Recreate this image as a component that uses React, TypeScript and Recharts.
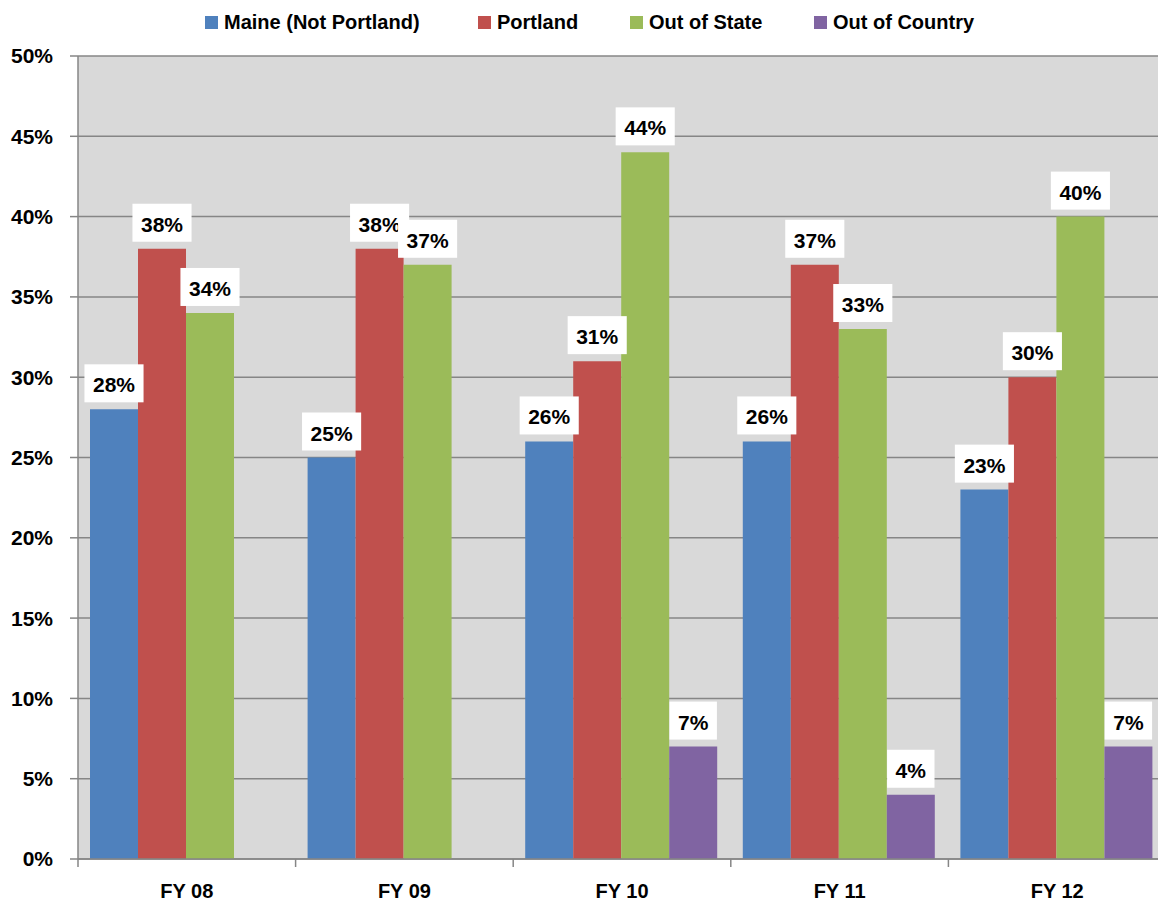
import {
  BarChart,
  Bar,
  XAxis,
  YAxis,
  CartesianGrid,
  LabelList,
} from "recharts";

const years = ["FY 08", "FY 09", "FY 10", "FY 11", "FY 12"];
const maine = [28, 25, 26, 26, 23];
const portland = [38, 38, 31, 37, 30];
const outOfState = [34, 37, 44, 33, 40];
const outOfCountry = [null, null, 7, 4, 7];
const yTicks = [0, 5, 10, 15, 20, 25, 30, 35, 40, 45, 50];

const series = [
  { key: "maine", name: "Maine (Not Portland)", color: "#4f81bd" },
  { key: "portland", name: "Portland", color: "#c0504d" },
  { key: "outOfState", name: "Out of State", color: "#9bbb59" },
  { key: "outOfCountry", name: "Out of Country", color: "#8064a2" },
];

const data = years.map((fy, i) => ({
  fy,
  maine: maine[i],
  portland: portland[i],
  outOfState: outOfState[i],
  outOfCountry: outOfCountry[i],
}));

const W = 1175;
const H = 905;
const AXIS_W = 78;
const RIGHT = 9;
const BAND = (W - AXIS_W - RIGHT) / years.length;
const FONT = "'Liberation Sans', Arial, sans-serif";
const GRID = "#868686";

const legendWidths = [273, 152, 184, undefined];

function ValueBox(props: any) {
  const { x, y, width, value } = props;
  if (value == null) return null;
  const text = `${value}%`;
  const w = (text.length - 1) * 11.7 + 18.7 + 17;
  const cx = x + width / 2;
  const top = y - 7 - 38;
  return (
    <g>
      <rect x={cx - w / 2} y={top} width={w} height={38} fill="#fff" />
      <text
        x={cx}
        y={top + 28}
        textAnchor="middle"
        fontFamily={FONT}
        fontWeight="bold"
        fontSize={21}
        fill="#000"
      >
        {text}
      </text>
    </g>
  );
}

function YearTick(props: any) {
  const { x, y, payload } = props;
  const left = x - BAND / 2;
  return (
    <g>
      <line x1={left} y1={y - 8} x2={left} y2={y} stroke={GRID} strokeWidth={1.5} />
      <text
        x={x}
        y={y + 31}
        textAnchor="middle"
        fontFamily={FONT}
        fontWeight="bold"
        fontSize={20}
        fill="#000"
      >
        {payload.value}
      </text>
    </g>
  );
}

export default function App() {
  return (
    <div
      style={{
        position: "absolute",
        left: 0,
        top: 0,
        width: 1158,
        height: H,
        overflow: "hidden",
        background: "#fff",
      }}
    >
      <div
        style={{
          position: "absolute",
          left: 205,
          top: 8,
          height: 29,
          display: "flex",
          alignItems: "center",
          fontFamily: FONT,
          fontWeight: "bold",
          fontSize: 20,
          color: "#000",
          whiteSpace: "nowrap",
        }}
      >
        {series.map((s, i) => (
          <div
            key={s.key}
            style={{ display: "flex", alignItems: "center", width: legendWidths[i] }}
          >
            <span
              style={{
                display: "inline-block",
                width: 13,
                height: 13,
                background: s.color,
                marginRight: 6,
              }}
            />
            {s.name}
          </div>
        ))}
      </div>
      <BarChart
        width={W}
        height={H}
        data={data}
        margin={{ top: 56, right: RIGHT, bottom: 0, left: 0 }}
        barCategoryGap={12}
        barGap={0}
      >
        <CartesianGrid vertical={false} stroke={GRID} strokeWidth={1.5} fill="#d9d9d9" />
        <XAxis
          dataKey="fy"
          height={46}
          axisLine={{ stroke: GRID, strokeWidth: 1.5 }}
          tickLine={false}
          tickSize={8}
          tickMargin={0}
          tick={<YearTick />}
          interval={0}
        />
        <YAxis
          width={AXIS_W}
          domain={[0, 50]}
          ticks={yTicks}
          interval={0}
          tickFormatter={(v) => `${v}%`}
          axisLine={{ stroke: GRID, strokeWidth: 1.5 }}
          tickLine={{ stroke: GRID, strokeWidth: 1.5 }}
          tickSize={8}
          tickMargin={17}
          tick={{ fontFamily: FONT, fontWeight: "bold", fontSize: 21, fill: "#000" }}
        />
        {series.map((s) => (
          <Bar
            key={s.key}
            dataKey={s.key}
            name={s.name}
            fill={s.color}
            isAnimationActive={false}
          >
            <LabelList dataKey={s.key} content={<ValueBox />} />
          </Bar>
        ))}
      </BarChart>
    </div>
  );
}
